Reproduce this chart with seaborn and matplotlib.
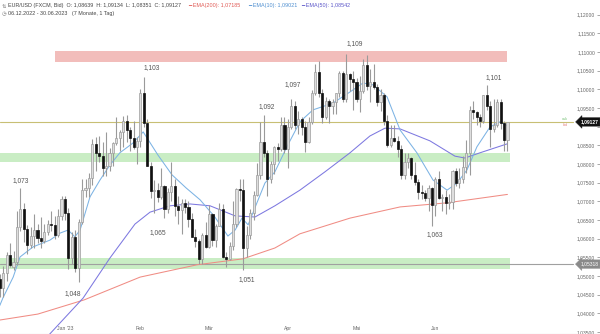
import numpy as np
import pandas as pd
import matplotlib
matplotlib.use("Agg")
import matplotlib.pyplot as plt
from matplotlib.patches import Rectangle
import seaborn as sns

# ---------------- data (EUR/USD daily, FXCM bid) ----------------
dates = pd.bdate_range("2022-12-06", "2023-06-30")

open_dec = [1.0493, 1.0467, 1.0509, 1.0555, 1.0525, 1.0537, 1.0631, 1.0680, 1.0626, 1.0583, 1.0607, 1.0623, 1.0603, 1.0593, 1.0617, 1.0640, 1.0637, 1.0610, 1.0661]
high_dec = [1.0505, 1.0528, 1.0563, 1.0588, 1.0568, 1.0673, 1.0736, 1.0695, 1.0636, 1.0630, 1.0666, 1.0638, 1.0658, 1.0639, 1.0650, 1.0673, 1.0660, 1.0680, 1.0714]
low_dec = [1.0443, 1.0443, 1.0486, 1.0525, 1.0517, 1.0530, 1.0620, 1.0592, 1.0560, 1.0575, 1.0575, 1.0588, 1.0575, 1.0588, 1.0610, 1.0620, 1.0600, 1.0605, 1.0650]
close_dec = [1.0467, 1.0509, 1.0555, 1.0530, 1.0537, 1.0631, 1.0680, 1.0626, 1.0583, 1.0607, 1.0623, 1.0603, 1.0593, 1.0617, 1.0640, 1.0637, 1.0610, 1.0661, 1.0705]

open_jan = [1.0705, 1.0668, 1.0547, 1.0605, 1.0521, 1.0644, 1.0730, 1.0735, 1.0762, 1.0853, 1.0829, 1.0822, 1.0788, 1.0795, 1.0830, 1.0855, 1.0870, 1.0885, 1.0915, 1.0890, 1.0870, 1.0845]
high_jan = [1.0713, 1.0683, 1.0619, 1.0622, 1.0652, 1.0760, 1.0760, 1.0777, 1.0867, 1.0873, 1.0874, 1.0858, 1.0887, 1.0843, 1.0860, 1.0927, 1.0890, 1.0929, 1.0930, 1.0900, 1.0915, 1.0872]
low_jan = [1.0650, 1.0519, 1.0532, 1.0511, 1.0483, 1.0638, 1.0712, 1.0712, 1.0743, 1.0780, 1.0805, 1.0767, 1.0768, 1.0780, 1.0795, 1.0850, 1.0835, 1.0845, 1.0860, 1.0835, 1.0840, 1.0800]
close_jan = [1.0668, 1.0547, 1.0605, 1.0521, 1.0644, 1.0730, 1.0735, 1.0762, 1.0853, 1.0829, 1.0822, 1.0788, 1.0795, 1.0830, 1.0855, 1.0870, 1.0885, 1.0915, 1.0890, 1.0870, 1.0845, 1.0862]

open_feb = [1.0862, 1.0990, 1.0910, 1.0795, 1.0728, 1.0730, 1.0712, 1.0740, 1.0680, 1.0725, 1.0740, 1.0688, 1.0677, 1.0695, 1.0685, 1.0652, 1.0605, 1.0595, 1.0545, 1.0610]
high_feb = [1.1000, 1.1033, 1.0920, 1.0806, 1.0757, 1.0750, 1.0790, 1.0745, 1.0735, 1.0805, 1.0760, 1.0715, 1.0705, 1.0706, 1.0700, 1.0670, 1.0625, 1.0600, 1.0615, 1.0645]
low_feb = [1.0845, 1.0900, 1.0795, 1.0710, 1.0668, 1.0697, 1.0705, 1.0656, 1.0670, 1.0700, 1.0660, 1.0640, 1.0613, 1.0670, 1.0630, 1.0605, 1.0577, 1.0533, 1.0533, 1.0576]
close_feb = [1.0990, 1.0910, 1.0795, 1.0728, 1.0730, 1.0712, 1.0740, 1.0680, 1.0725, 1.0740, 1.0688, 1.0677, 1.0695, 1.0685, 1.0652, 1.0605, 1.0595, 1.0545, 1.0610, 1.0577]

open_mar = [1.0577, 1.0667, 1.0596, 1.0635, 1.0680, 1.0550, 1.0545, 1.0580, 1.0640, 1.0732, 1.0730, 1.0576, 1.0609, 1.0670, 1.0717, 1.0770, 1.0860, 1.0830, 1.0760, 1.0800, 1.0845, 1.0840, 1.0905]
high_mar = [1.0691, 1.0670, 1.0640, 1.0695, 1.0694, 1.0565, 1.0590, 1.0700, 1.0737, 1.0760, 1.0760, 1.0635, 1.0680, 1.0728, 1.0803, 1.0912, 1.0930, 1.0837, 1.0808, 1.0848, 1.0857, 1.0925, 1.0925]
low_mar = [1.0574, 1.0580, 1.0578, 1.0633, 1.0547, 1.0525, 1.0543, 1.0570, 1.0630, 1.0700, 1.0516, 1.0550, 1.0600, 1.0650, 1.0714, 1.0760, 1.0820, 1.0713, 1.0750, 1.0774, 1.0808, 1.0835, 1.0830]
close_mar = [1.0667, 1.0596, 1.0635, 1.0680, 1.0550, 1.0545, 1.0580, 1.0640, 1.0732, 1.0730, 1.0576, 1.0609, 1.0670, 1.0717, 1.0770, 1.0860, 1.0830, 1.0760, 1.0800, 1.0845, 1.0840, 1.0905, 1.0840]

open_apr = [1.0840, 1.0900, 1.0955, 1.0905, 1.0920, 1.0900, 1.0860, 1.0913, 1.0990, 1.1046, 1.0990, 1.0925, 1.0970, 1.0955, 1.0965, 1.0990, 1.1045, 1.0975, 1.1040, 1.1028]
high_apr = [1.0920, 1.0973, 1.0970, 1.0942, 1.0925, 1.0915, 1.0925, 1.0998, 1.1067, 1.1076, 1.1000, 1.0980, 1.0975, 1.0975, 1.0990, 1.1050, 1.1048, 1.1095, 1.1045, 1.1050]
low_apr = [1.0788, 1.0895, 1.0895, 1.0880, 1.0878, 1.0832, 1.0855, 1.0907, 1.0985, 1.0980, 1.0910, 1.0920, 1.0910, 1.0935, 1.0935, 1.0980, 1.0965, 1.0965, 1.0995, 1.0945]
close_apr = [1.0900, 1.0955, 1.0905, 1.0920, 1.0900, 1.0860, 1.0913, 1.0990, 1.1046, 1.0990, 1.0925, 1.0970, 1.0955, 1.0965, 1.0990, 1.1045, 1.0975, 1.1040, 1.1028, 1.1020]

open_may = [1.1020, 1.0975, 1.0995, 1.1065, 1.1010, 1.1020, 1.1005, 1.0965, 1.0985, 1.0915, 1.0850, 1.0870, 1.0862, 1.0840, 1.0770, 1.0805, 1.0815, 1.0770, 1.0752, 1.0725, 1.0722, 1.0710, 1.0735]
high_may = [1.1030, 1.1035, 1.1080, 1.1092, 1.1055, 1.1068, 1.1015, 1.1000, 1.0990, 1.0930, 1.0905, 1.0905, 1.0875, 1.0850, 1.0830, 1.0830, 1.0820, 1.0805, 1.0760, 1.0745, 1.0730, 1.0745, 1.0738]
low_may = [1.0965, 1.0940, 1.0990, 1.0997, 1.0967, 1.1000, 1.0955, 1.0942, 1.0905, 1.0845, 1.0845, 1.0860, 1.0820, 1.0760, 1.0760, 1.0790, 1.0760, 1.0745, 1.0705, 1.0705, 1.0700, 1.0675, 1.0635]
close_may = [1.0975, 1.0995, 1.1065, 1.1010, 1.1020, 1.1005, 1.0965, 1.0985, 1.0915, 1.0850, 1.0870, 1.0862, 1.0840, 1.0770, 1.0805, 1.0815, 1.0770, 1.0752, 1.0725, 1.0722, 1.0710, 1.0735, 1.0690]

open_jun = [1.0690, 1.0760, 1.0710, 1.0712, 1.0695, 1.0698, 1.0780, 1.0750, 1.0760, 1.0792, 1.0830, 1.0945, 1.0940, 1.0925, 1.0915, 1.0985, 1.0955, 1.0895, 1.0905, 1.0965, 1.0910, 1.08639]
high_jun = [1.0765, 1.0780, 1.0720, 1.0730, 1.0720, 1.0785, 1.0790, 1.0790, 1.0822, 1.0865, 1.0955, 1.0970, 1.0943, 1.0935, 1.0985, 1.1012, 1.0968, 1.0975, 1.0975, 1.0975, 1.0915, 1.09134]
low_jun = [1.0662, 1.0705, 1.0675, 1.0665, 1.0680, 1.0680, 1.0740, 1.0735, 1.0750, 1.0775, 1.0770, 1.0920, 1.0905, 1.0898, 1.0910, 1.0945, 1.0845, 1.0885, 1.0898, 1.0895, 1.0835, 1.08351]
close_jun = [1.0760, 1.0710, 1.0712, 1.0695, 1.0698, 1.0780, 1.0750, 1.0760, 1.0792, 1.0830, 1.0945, 1.0940, 1.0925, 1.0915, 1.0985, 1.0955, 1.0895, 1.0905, 1.0965, 1.0910, 1.0864, 1.09127]

# EMA curves: (bar number, value)
ema10_bar = [0.0, 0.9, 3.9, 5.9, 9.7, 14.6, 17.6, 19.9, 21.9, 23.4, 26.3, 29.2, 32.1, 35.0, 38.8, 41.8, 46.1, 50.2, 54.3, 58.4, 62.7, 66.5, 68.6, 70.6, 72.4, 74.7, 77.3, 80.2, 83.7, 87.5, 91.3, 97.1, 102.1, 105.9, 108.8, 112.9, 116.7, 121.6, 126.3, 130.4, 133.3, 136.2, 139.1, 142.9, 145.8, 148.0]
ema10_val = [1.0421, 1.0441, 1.0497, 1.0551, 1.0578, 1.0596, 1.0615, 1.0623, 1.0605, 1.0623, 1.0712, 1.0757, 1.0797, 1.0830, 1.0856, 1.0886, 1.0824, 1.0771, 1.0736, 1.0704, 1.0658, 1.0607, 1.0623, 1.0655, 1.0637, 1.0690, 1.0749, 1.0779, 1.0846, 1.0913, 1.0945, 1.0963, 1.0993, 1.1017, 1.1012, 1.0980, 1.0891, 1.0830, 1.0757, 1.0730, 1.0749, 1.0784, 1.0846, 1.0899, 1.0913, 1.09021]

ema50_bar = [13.5, 24.3, 32.1, 39.4, 43.8, 49.6, 55.4, 61.3, 68.6, 74.4, 80.2, 87.5, 94.8, 102.1, 107.9, 112.3, 116.7, 125.4, 132.7, 135.6, 140.0, 148.0]
ema50_val = [1.0334, 1.0441, 1.0548, 1.0639, 1.0671, 1.0688, 1.0693, 1.0688, 1.0661, 1.0658, 1.0688, 1.0730, 1.0779, 1.0830, 1.0875, 1.0896, 1.0894, 1.0862, 1.0821, 1.0816, 1.0830, 1.08542]

ema200_bar = [0.0, 11.1, 24.6, 40.9, 57.5, 70.9, 80.2, 87.5, 102.1, 116.7, 130.4, 148.0]
ema200_val = [1.0382, 1.0398, 1.0436, 1.0497, 1.0530, 1.0546, 1.0575, 1.0613, 1.0655, 1.0685, 1.0696, 1.07185]

# horizontal zones / levels
red_zone = (1.1073, 1.1102)
green_zones = [(1.0805, 1.0830), (1.0518, 1.0548)]
support_level = 1.05318

# price labels of swing points: text, bar, price
swing_text = ["1,073", "1,048", "1,103", "1,065", "1,051", "1,092", "1,097", "1,109", "1,063", "1,101"]
swing_bar = [6.1, 21.3, 44.3, 46.0, 72.0, 77.8, 85.4, 103.5, 126.9, 143.9]
swing_price = [1.0755, 1.0454, 1.1059, 1.0616, 1.0491, 1.0953, 1.1012, 1.1123, 1.0610, 1.1031]

price_ticks = [1.035, 1.040, 1.045, 1.050, 1.055, 1.060, 1.065, 1.070, 1.075, 1.080,
               1.085, 1.090, 1.095, 1.100, 1.105, 1.110, 1.115, 1.120]
month_labels = ["Jan '23", "Feb", "Mär", "Apr", "Mai", "Jun"]

# ---------------- assemble ----------------
opens = np.array(open_dec + open_jan + open_feb + open_mar + open_apr + open_may + open_jun)
highs = np.array(high_dec + high_jan + high_feb + high_mar + high_apr + high_may + high_jun)
lows = np.array(low_dec + low_jan + low_feb + low_mar + low_apr + low_may + low_jun)
closes = np.array(close_dec + close_jan + close_feb + close_mar + close_apr + close_may + close_jun)
bars = np.arange(len(dates))

sns.set_theme(style="white")
plt.rcParams['font.family'] = ['Liberation Sans', 'DejaVu Sans']

W, H = 600, 334
fig = plt.figure(figsize=(W / 100, H / 100), dpi=100)
ax = fig.add_axes([0, 0, 1, 1])
ax.set_facecolor("white")

px = 3.43
x0 = 0.2 / px
ax.set_xlim(x0, x0 + W / px)
ax.set_ylim(1.03446, 1.12393)

# zones
ax.add_patch(Rectangle((16.1, red_zone[0]), 147.8 - 16.1, red_zone[1] - red_zone[0],
                       fc="#f2bdbb", ec="none", zorder=1))
for lo, hi in green_zones:
    ax.add_patch(Rectangle((x0, lo), 148.7 - x0, hi - lo, fc="#c9edc4", ec="none", zorder=1))

# level lines
last_close = closes[-1]
ax.axhline(last_close, xmin=0, xmax=573 / W, color="#c8bf74", lw=0.8, zorder=2)
ax.axhline(support_level, xmin=0, xmax=573 / W, color="#a0a0a0", lw=0.8, zorder=2)

# EMA lines
sns.lineplot(x=ema200_bar, y=ema200_val, ax=ax, color="#f08c84", lw=0.75, zorder=3, estimator=None, sort=False)
sns.lineplot(x=ema50_bar, y=ema50_val, ax=ax, color="#7d78e0", lw=0.75, zorder=3, estimator=None, sort=False)
sns.lineplot(x=ema10_bar, y=ema10_val, ax=ax, color="#7cb3e4", lw=0.75, zorder=3, estimator=None, sort=False)

# candles
up = closes >= opens
ax.vlines(bars, lows, highs, color="#9a9a9a", lw=0.8, zorder=4)
body_lo = np.minimum(opens, closes)
body_h = np.maximum(np.abs(closes - opens), 0.00015)
ax.bar(bars[up], body_h[up], bottom=body_lo[up], width=0.62, color="#dedede",
       edgecolor="#9c9c9c", linewidth=0.5, zorder=5)
ax.bar(bars[~up], body_h[~up], bottom=body_lo[~up], width=0.62, color="#111111",
       edgecolor="#111111", linewidth=0.5, zorder=5)

# swing labels
for t, b, p in zip(swing_text, swing_bar, swing_price):
    ax.text(b, p, t, ha="center", va="center", fontsize=4.8, color="#555555", zorder=6)

# axes styling
for s in ["top", "left", "right"]:
    ax.spines[s].set_visible(False)
ax.spines["bottom"].set_color("#bbbbbb")
ax.spines["bottom"].set_linewidth(0.8)

month_pos = [i for i in range(1, len(dates)) if dates[i].month != dates[i - 1].month]
ax.set_xticks(month_pos)
ax.set_xticklabels(month_labels)
ax.tick_params(axis="x", direction="in", length=2, width=0.6, color="#999999",
               pad=-6, labelsize=3.7, labelcolor="#666666")

ax.yaxis.tick_right()
ax.set_yticks(price_ticks)
ax.set_yticklabels(["" if abs(t - 1.09) < 1e-9 else f"{t:.5f}".replace(".", ",") for t in price_ticks])
ax.tick_params(axis="y", direction="in", length=2, width=0.6, color="#999999",
               pad=-3.5, labelsize=3.6, labelcolor="#666666")
for tk in ax.yaxis.get_major_ticks():
    tk.label2.set_horizontalalignment("right")
ax.grid(False)

# price tags
ax.text(0.997, last_close, f"{last_close:.5f}".replace(".", ","), transform=ax.get_yaxis_transform(),
        ha="right", va="center", fontsize=3.6, color="white", fontweight="bold", zorder=10,
        bbox=dict(boxstyle="larrow,pad=0.35", fc="#111111", ec="#111111", lw=0.3))
ax.text(0.997, support_level, f"{support_level:.5f}".replace(".", ","), transform=ax.get_yaxis_transform(),
        ha="right", va="center", fontsize=3.6, color="white", zorder=10,
        bbox=dict(boxstyle="larrow,pad=0.35", fc="#8a8a8a", ec="#8a8a8a", lw=0.3))
ax.annotate("ask", (565 / W, last_close), xycoords=("axes fraction", "data"), xytext=(0, 2.2),
            textcoords="offset points", ha="center", va="center", fontsize=2.8, color="#7cc47c")
ax.annotate("bid", (565 / W, last_close), xycoords=("axes fraction", "data"), xytext=(0, -2.4),
            textcoords="offset points", ha="center", va="center", fontsize=2.8, color="#e68a8a")

# header
def ftext(x, y, s, **kw):
    fig.text(x / W, 1 - y / H, s, va="center", ha="left", fontsize=3.85, **kw)

ftext(1.5, 6, "⇅", color="#777777")
ftext(8, 6, "EUR/USD (FXCM, Bid)  O: 1,08639  H: 1,09134  L: 1,08351  C: 1,09127", color="#444444")
ftext(188, 6, "━ EMA(200): 1,07185", color="#e05a55")
ftext(248, 6, "━ EMA(10): 1,09021", color="#4f8fd0")
ftext(301, 6, "━ EMA(50): 1,08542", color="#5a55c8")
ftext(1.5, 13.5, "◷", color="#777777")
ftext(8, 13.5, "06.12.2022 - 30.06.2023   (7 Monate, 1 Tag)", color="#444444")

fig.savefig("out.png", dpi=100)
